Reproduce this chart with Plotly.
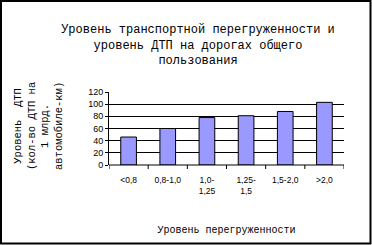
import plotly.graph_objects as go

categories = ["<0,8", "0,8-1,0", "1,0-<br>1,25", "1,25-<br>1,5", "1,5-2,0", ">2,0"]
values = [46, 60, 78, 81, 88, 103]
title_text = "Уровень транспортной перегруженности и<br>уровень ДТП на дорогах общего<br>пользования"
x_title = "Уровень перегруженности"
y_title = "Уровень  ДТП<br>(кол-во ДТП на<br>1 млрд.<br>автомобиле-км)"

W, H = 372, 245
L, R, T, B = 109, 28, 92, 80
pw, ph = W - L - R, H - T - B

fig = go.Figure(go.Bar(
    x=list(range(len(categories))), y=values,
    width=0.4,
    marker=dict(color="#9999FF", line=dict(color="black", width=1)),
))

fig.update_layout(
    width=W, height=H,
    margin=dict(l=L, r=R, t=T, b=B),
    paper_bgcolor="white", plot_bgcolor="white",
    showlegend=False,
    title=dict(text=title_text, x=198 / W, xanchor="center", y=1 - 33 / H, yanchor="top",
               font=dict(family="Liberation Mono", size=12, color="black")),
    xaxis=dict(
        tickmode="array", tickvals=list(range(len(categories))), ticktext=categories,
        range=[-0.5, len(categories) - 0.5],
        showline=False, showgrid=False, zeroline=False,
        ticks="", ticklabelstandoff=8,
        tickfont=dict(family="Liberation Sans", size=8.5, color="black"),
        title=dict(text=x_title, font=dict(family="Liberation Mono", size=10, color="black"), standoff=31),
    ),
    yaxis=dict(
        range=[0, 120], dtick=20, tick0=0,
        showgrid=True, gridcolor="black", gridwidth=1,
        showline=True, linecolor="black", linewidth=1,
        ticks="outside", ticklen=3, tickcolor="black",
        zeroline=False,
        tickfont=dict(family="Liberation Sans", size=9, color="black"),
    ),
)

# x axis baseline with boundary ticks
fig.add_shape(type="line", xref="paper", yref="paper", x0=0, x1=1, y0=0, y1=0,
              line=dict(color="black", width=1))
for i in range(len(categories) + 1):
    fig.add_shape(type="line", xref="x", yref="paper", x0=i - 0.5, x1=i - 0.5,
                  y0=0, y1=-4 / ph, line=dict(color="black", width=1))

# y axis title (rotated multi-line)
fig.add_annotation(text=y_title, xref="paper", yref="paper",
                   x=-71 / pw, y=(H - B - 126) / ph, xanchor="center", yanchor="middle",
                   textangle=-90, showarrow=False, align="center",
                   font=dict(family="Liberation Mono", size=10.5, color="black"))

# outer frame
fig.add_shape(type="rect", xref="paper", yref="paper",
              x0=-(L - 1) / pw, x1=1 + (R - 1.5) / pw, y0=-(B - 1.5) / ph, y1=1 + (T - 1) / ph,
              line=dict(color="black", width=2), layer="above")

fig.write_html("out.html")
